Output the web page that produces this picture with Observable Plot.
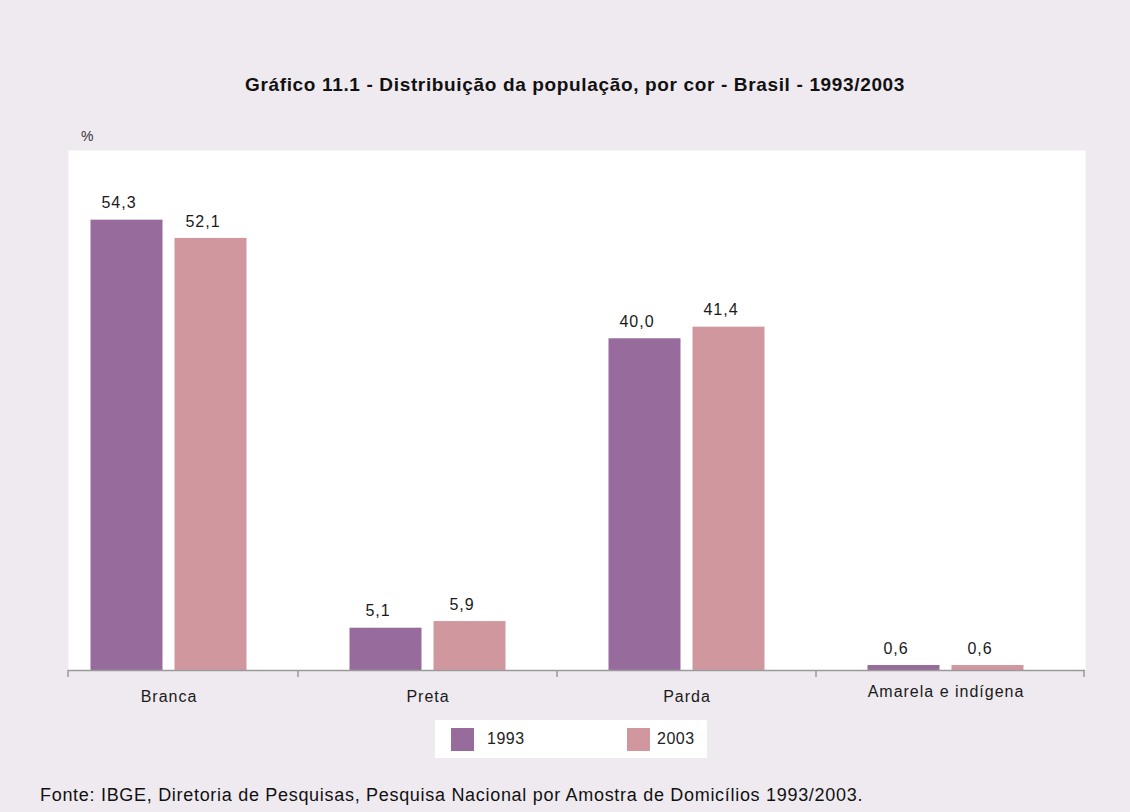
<!DOCTYPE html>
<html>
<head>
<meta charset="utf-8">
<script src="https://cdn.jsdelivr.net/npm/d3@7"></script>
<script src="https://cdn.jsdelivr.net/npm/@observablehq/plot@0.6"></script>
<style>
  html, body { margin: 0; padding: 0; background: #efeaf0; width: 1130px; height: 812px; overflow: hidden; }
  #wrap { position: relative; width: 1130px; height: 812px; font-family: "Liberation Sans", Arial, sans-serif; color: #1a1a1a; }
  #chart { position: absolute; left: 0; top: 0; }
  #title { position: absolute; top: 74px; left: 245px; white-space: nowrap;
    font-family: "Liberation Sans", sans-serif; letter-spacing: 0.65px;
    font-weight: bold; font-size: 19px; color: #111; }
  #unit { position: absolute; left: 81px; top: 128px; font-size: 14px; color: #333; }
  #legend { position: absolute; left: 435px; top: 720px; width: 272px; height: 38px; background: #fff; }
  .sw { position: absolute; top: 8px; width: 23px; height: 23px; }
  .lt { position: absolute; top: 10px; font-size: 16px; letter-spacing: 0.5px; color: #222; }
  #caption { position: absolute; left: 40px; top: 785px; white-space: nowrap; font-family: "Liberation Sans", sans-serif;
    letter-spacing: 0.7px; font-size: 18px; color: #111; }
</style>
</head>
<body>
<div id="wrap">
  <div id="chart"></div>
  <div id="title">Gráfico 11.1 - Distribuição da população, por cor - Brasil - 1993/2003</div>
  <div id="unit">%</div>
  <div id="legend"></div>
  <div id="caption">Fonte: IBGE, Diretoria de Pesquisas, Pesquisa Nacional por Amostra de Domicílios 1993/2003.</div>
</div>
<script>
// ---- data ----
const categories = ["Branca", "Preta", "Parda", "Amarela e indígena"];
const years = ["1993", "2003"];
const values1993 = [54.3, 5.1, 40.0, 0.6];
const values2003 = [52.1, 5.9, 41.4, 0.6];
const yMax = 62.7;
const colors = ["#976b9b", "#d0979f"];

const rows1993 = categories.map((c, i) => ({cat: c, year: years[0], value: values1993[i]}));
const rows2003 = categories.map((c, i) => ({cat: c, year: years[1], value: values2003[i]}));
const fmt = d => d.value.toFixed(1).replace(".", ",");

function boundaryTicks(index, scales, values, dim) {
  const x = scales.x;
  const y0 = dim.height - dim.marginBottom;
  const xs = [dim.marginLeft, ...categories.slice(1).map(c => x(c)), dim.width - dim.marginRight - 1];
  const g = d3.create("svg:g").attr("stroke", "#9a9a9a").attr("stroke-width", 1.5);
  for (const px of xs) g.append("line").attr("x1", px).attr("x2", px).attr("y1", y0).attr("y2", y0 + 7);
  return g.node();
}

const chart = Plot.plot({
  width: 1130,
  height: 812,
  marginTop: 150,
  marginBottom: 142,
  marginLeft: 68,
  marginRight: 45,
  style: {background: "transparent", fontFamily: "'Liberation Sans', Arial, sans-serif", fontSize: "16px", letterSpacing: "1px", color: "#1a1a1a", overflow: "visible"},
  x: {domain: categories, range: [38.5, 1075], padding: 0, label: null},
  y: {domain: [0, yMax], axis: null},
  color: {domain: years, range: colors},
  marks: [
    Plot.frame({fill: "#ffffff", stroke: "none"}),
    Plot.barY(rows1993, {x: "cat", y: "value", fill: "year", insetLeft: 51.5, insetRight: 135.5}),
    Plot.barY(rows2003, {x: "cat", y: "value", fill: "year", insetLeft: 135.5, insetRight: 51.5}),
    Plot.text(rows1993, {x: "cat", y: "value", text: fmt, dx: -50, dy: -17, fontSize: 16, fill: "#1a1a1a"}),
    Plot.text(rows2003, {x: "cat", y: "value", text: fmt, dx: 34, dy: -17, fontSize: 16, fill: "#1a1a1a"}),
    Plot.ruleY([0], {stroke: "#9a9a9a", strokeWidth: 1.5}),
    boundaryTicks,
    Plot.axisX(categories.slice(0, 3), {tickSize: 0, tickPadding: 20, fontSize: 16, label: null, fill: "#1a1a1a"}),
    Plot.axisX(categories.slice(3), {tickSize: 0, tickPadding: 15, fontSize: 16, label: null, fill: "#1a1a1a"})
  ]
});
document.getElementById("chart").appendChild(chart);

// legend (HTML, driven by the same colours/years)
const legend = document.getElementById("legend");
const swLeft = [16, 192];
years.forEach((y, i) => {
  const sw = document.createElement("div");
  sw.className = "sw"; sw.style.left = swLeft[i] + "px"; sw.style.background = colors[i];
  legend.appendChild(sw);
  const t = document.createElement("div");
  t.className = "lt"; t.style.left = (swLeft[i] + 36 - (i ? 6 : 0)) + "px"; t.textContent = y;
  legend.appendChild(t);
});
</script>
</body>
</html>
